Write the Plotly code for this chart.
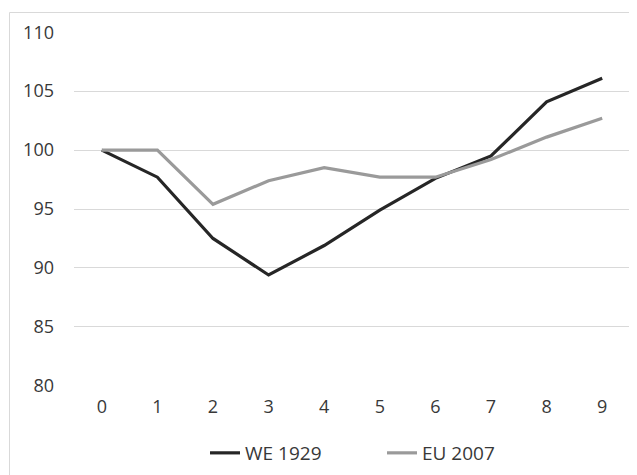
import plotly.graph_objects as go

years = [0, 1, 2, 3, 4, 5, 6, 7, 8, 9]
we_1929 = [100, 97.7, 92.5, 89.4, 91.9, 94.9, 97.6, 99.5, 104.1, 106.1]
eu_2007 = [100, 100, 95.4, 97.4, 98.5, 97.7, 97.7, 99.2, 101.1, 102.7]
y_ticks = [80, 85, 90, 95, 100, 105, 110]

font = dict(family="Open Sans, Liberation Sans, sans-serif", size=18, color="#383838")
legend_font = dict(family="Open Sans, Liberation Sans, sans-serif", size=19, color="#383838")

W, H = 629, 467  # page body has an 8px default margin

fig = go.Figure()
fig.add_trace(go.Scatter(x=years, y=we_1929, mode="lines", name="WE 1929",
                         line=dict(color="#262626", width=3.2)))
fig.add_trace(go.Scatter(x=years, y=eu_2007, mode="lines", name="EU 2007",
                         line=dict(color="#9a9a9a", width=3.2)))

fig.update_layout(
    width=W, height=H,
    margin=dict(l=66, r=7, t=24, b=89, autoexpand=False),
    paper_bgcolor="white", plot_bgcolor="white",
    font=font,
    showlegend=True,
    legend=dict(orientation="h", x=0.554, xanchor="center", yref="container",
                y=1 - 445 / H, yanchor="middle", entrywidth=132,
                font=legend_font, itemwidth=30, tracegroupgap=0, bgcolor="rgba(0,0,0,0)"),
    xaxis=dict(range=[-0.5, 9.5], tickvals=years, showgrid=False, zeroline=False,
               showline=False, ticks="", tickfont=font, ticklabelstandoff=8,
               automargin=False),
    yaxis=dict(range=[79.98, 110.02], tickvals=y_ticks, showgrid=True, gridcolor="#d9d9d9",
               gridwidth=1.3, zeroline=False, showline=False, ticks="", tickfont=font,
               ticklabelstandoff=19, automargin=False),
    shapes=[dict(type="rect", xref="paper", yref="paper",
                 x0=(1.5 - 66) / 556, x1=1.2, y0=-0.4, y1=(378 - 4.5) / 354,
                 line=dict(color="#d9d9d9", width=1), layer="below")],
)

fig.write_html("out.html")
